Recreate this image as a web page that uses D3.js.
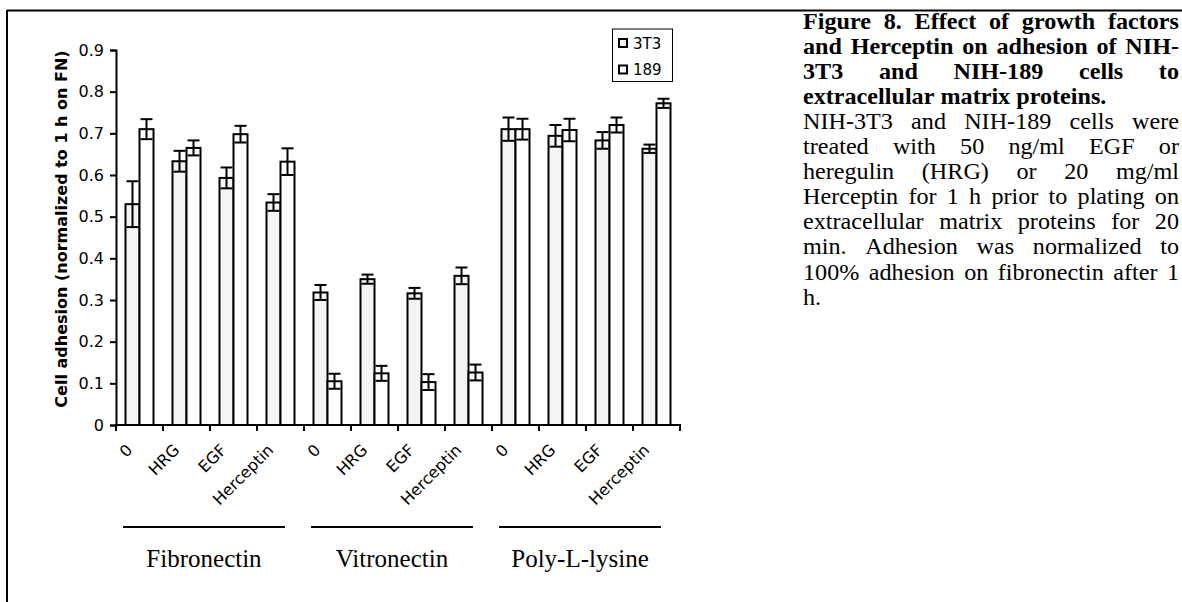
<!DOCTYPE html>
<html>
<head>
<meta charset="utf-8">
<script src="https://cdn.jsdelivr.net/npm/d3@7"></script>
<style>
  body { margin: 0; background: #fff; }
  svg { display: block; }
</style>
</head>
<body>
<svg id="fig" width="1182" height="602"></svg>
<script>
// values
var substrates = ['Fibronectin', 'Vitronectin', 'Poly-L-lysine'];
var treatments = ['0', 'HRG', 'EGF', 'Herceptin'];
var seriesNames = ['3T3', '189'];
var yTicks = [0, 0.1, 0.2, 0.3, 0.4, 0.5, 0.6, 0.7, 0.8, 0.9];

var values3T3 = [0.53, 0.633, 0.593, 0.534, 0.318, 0.350, 0.316, 0.358, 0.710, 0.694, 0.683, 0.663];
var err3T3    = [0.055, 0.025, 0.025, 0.02, 0.018, 0.011, 0.013, 0.02, 0.028, 0.026, 0.02, 0.01];
var values189 = [0.71, 0.665, 0.698, 0.632, 0.105, 0.124, 0.103, 0.126, 0.71, 0.708, 0.72, 0.772];
var err189    = [0.024, 0.018, 0.02, 0.032, 0.018, 0.018, 0.019, 0.019, 0.025, 0.027, 0.018, 0.011];

var yLabel = 'Cell adhesion (normalized to 1 h on FN)';

var captionLines = [
  {t: 'Figure 8. Effect of growth factors', bold: true},
  {t: 'and Herceptin on adhesion of NIH-', bold: true},
  {t: '3T3 and NIH-189 cells to', bold: true},
  {t: 'extracellular matrix proteins.', bold: true, last: true},
  {t: 'NIH-3T3 and NIH-189 cells were'},
  {t: 'treated with 50 ng/ml EGF or'},
  {t: 'heregulin (HRG) or 20 mg/ml'},
  {t: 'Herceptin for 1 h prior to plating on'},
  {t: 'extracellular matrix proteins for 20'},
  {t: 'min.  Adhesion was normalized to'},
  {t: '100% adhesion on fibronectin after 1'},
  {t: 'h.', last: true}
];

(function() {

  var svg = d3.select('#fig');

  var plotLeft = 116, plotTop = 50, plotBottom = 425, bandW = 47;

  // one slot per substrate/treatment pair
  var cats = [];
  substrates.forEach(function(s, gi) {
    treatments.forEach(function(t, ti) {
      cats.push({sub: s, treat: t, i: gi * treatments.length + ti});
    });
  });

  var x = d3.scaleBand()
    .domain(cats.map(function(d) { return d.i; }))
    .range([plotLeft, plotLeft + bandW * cats.length])
    .padding(0);

  var x1 = d3.scaleBand()
    .domain(seriesNames)
    .range([9.5, 37.5])
    .padding(0);

  var y = d3.scaleLinear()
    .domain([0, 0.9])
    .range([plotBottom, plotTop]);

  // frame (top and left edges only, like the scan)
  svg.append('line').attr('x1', 7).attr('x2', 1182).attr('y1', 10.5).attr('y2', 10.5)
    .attr('stroke', '#000').attr('stroke-width', 2);
  svg.append('line').attr('x1', 7).attr('x2', 7).attr('y1', 10).attr('y2', 602)
    .attr('stroke', '#000').attr('stroke-width', 2);

  var chart = svg.append('g');

  var rows = [];
  cats.forEach(function(c) {
    rows.push({i: c.i, s: '3T3', v: values3T3[c.i], e: err3T3[c.i]});
    rows.push({i: c.i, s: '189', v: values189[c.i], e: err189[c.i]});
  });

  chart.selectAll('rect.bar')
    .data(rows)
    .enter()
    .append('rect')
    .attr('class', 'bar')
    .attr('x', function(d) { return x(d.i) + x1(d.s); })
    .attr('y', function(d) { return y(d.v); })
    .attr('width', x1.bandwidth())
    .attr('height', function(d) { return y(0) - y(d.v); })
    .attr('fill', function(d) { return d.s === '3T3' ? '#f4f4f4' : '#fff'; })
    .attr('stroke', '#000')
    .attr('stroke-width', 2);

  // error bars
  var eb = chart.selectAll('g.err')
    .data(rows)
    .enter()
    .append('g')
    .attr('class', 'err')
    .attr('transform', function(d) {
      return 'translate(' + (x(d.i) + x1(d.s) + x1.bandwidth() / 2) + ',0)';
    });

  eb.append('line')
    .attr('x1', 0).attr('x2', 0)
    .attr('y1', function(d) { return y(d.v + d.e); })
    .attr('y2', function(d) { return y(d.v - d.e); });
  eb.append('line')
    .attr('x1', -6).attr('x2', 6)
    .attr('y1', function(d) { return y(d.v + d.e); })
    .attr('y2', function(d) { return y(d.v + d.e); });
  eb.append('line')
    .attr('x1', -6).attr('x2', 6)
    .attr('y1', function(d) { return y(d.v - d.e); })
    .attr('y2', function(d) { return y(d.v - d.e); });
  eb.selectAll('line').attr('stroke', '#000').attr('stroke-width', 2);

  // y axis
  var yAxis = d3.axisLeft(y)
    .tickValues(yTicks)
    .tickSize(6)
    .tickPadding(6)
    .tickFormat(function(d) { return d === 0 ? '0' : d3.format('.1f')(d); });

  var gy = svg.append('g')
    .attr('transform', 'translate(' + plotLeft + ',0)')
    .call(yAxis);
  gy.select('.domain').attr('stroke-width', 2);
  gy.selectAll('.tick line').attr('stroke-width', 2);
  gy.selectAll('.tick text')
    .attr('font-family', 'DejaVu Sans, Verdana, sans-serif')
    .attr('font-size', 16)
    .attr('fill', '#000');

  // x axis with ticks at category boundaries
  var bounds = d3.range(cats.length + 1).map(function(k) {
    return k < cats.length ? x(k) : x(cats.length - 1) + bandW;
  });
  svg.append('line')
    .attr('x1', plotLeft).attr('x2', bounds[bounds.length - 1] + 1)
    .attr('y1', y(0)).attr('y2', y(0))
    .attr('stroke', '#000').attr('stroke-width', 2);
  svg.selectAll('line.xt')
    .data(bounds)
    .enter()
    .append('line')
    .attr('class', 'xt')
    .attr('x1', function(d) { return d; }).attr('x2', function(d) { return d; })
    .attr('y1', y(0)).attr('y2', y(0) + 6)
    .attr('stroke', '#000').attr('stroke-width', 2);

  svg.selectAll('text.xl')
    .data(cats)
    .enter()
    .append('text')
    .attr('class', 'xl')
    .attr('text-anchor', 'end')
    .attr('font-family', 'DejaVu Sans, Verdana, sans-serif')
    .attr('font-size', 16)
    .attr('transform', function(d) {
      return 'translate(' + (x(d.i) + bandW / 2 - 6) + ',451) rotate(-45)';
    })
    .text(function(d) { return d.treat; });

  // y label
  svg.append('text')
    .attr('transform', 'translate(67,229) rotate(-90)')
    .attr('text-anchor', 'middle')
    .attr('font-family', 'DejaVu Sans, Verdana, sans-serif')
    .attr('font-weight', 'bold')
    .attr('font-size', 16)
    .text(yLabel);

  // substrate group lines + names
  var groupW = bandW * treatments.length;
  substrates.forEach(function(s, gi) {
    var gx = plotLeft + gi * groupW;
    svg.append('line')
      .attr('x1', gx + 7).attr('x2', gx + groupW - 19)
      .attr('y1', 527).attr('y2', 527)
      .attr('stroke', '#000').attr('stroke-width', 2);
    svg.append('text')
      .attr('x', gx + (groupW - 12) / 2)
      .attr('y', 567)
      .attr('text-anchor', 'middle')
      .attr('font-family', 'Liberation Serif, Times New Roman, serif')
      .attr('font-size', 25)
      .text(s);
  });

  // legend
  var lg = svg.append('g');
  lg.append('rect')
    .attr('x', 612.5).attr('y', 29).attr('width', 60).attr('height', 52.5)
    .attr('fill', '#fff').attr('stroke', '#000').attr('stroke-width', 1);
  seriesNames.forEach(function(n, k) {
    var ly = 43 + k * 26.5;
    lg.append('rect')
      .attr('x', 619).attr('y', ly - 4).attr('width', 8).attr('height', 8)
      .attr('fill', k === 0 ? '#f4f4f4' : '#fff')
      .attr('stroke', '#000').attr('stroke-width', 2);
    lg.append('text')
      .attr('x', 633).attr('y', ly + 5.5)
      .attr('font-family', 'DejaVu Sans, Verdana, sans-serif')
      .attr('font-size', 15)
      .text(n);
  });

  // caption, justified word by word
  var capX = 803, capW = 376, capY = 28.5, capLead = 25.1, capFs = 23, sx = 1.05;
  var cap = svg.append('g');
  captionLines.forEach(function(line, li) {
    var words = line.t.split(/\s+/);
    var ly = capY + li * capLead;
    var g = cap.append('g');
    var nodes = words.map(function(w) {
      return g.append('text')
        .attr('font-family', 'Liberation Serif, Times New Roman, serif')
        .attr('font-size', capFs)
        .attr('font-weight', line.bold ? 'bold' : 'normal')
        .text(w);
    });
    var widths = nodes.map(function(n) { return n.node().getComputedTextLength() * sx; });
    var sum = d3.sum(widths);
    var gap = (line.last || words.length < 2) ? capFs * 0.25 * sx : (capW - sum) / (words.length - 1);
    var cx = capX;
    nodes.forEach(function(n, k) {
      n.attr('transform', 'translate(' + cx + ',' + ly + ') scale(' + sx + ',1)');
      cx += widths[k] + gap;
    });
  });

})();
</script>
</body>
</html>
